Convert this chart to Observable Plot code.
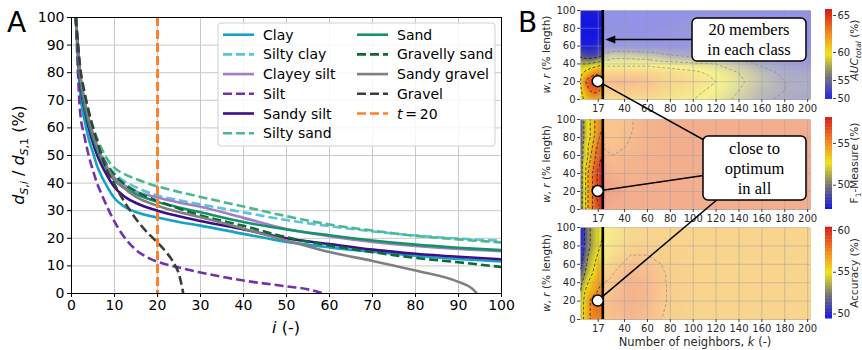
<!DOCTYPE html>
<html><head><meta charset="utf-8">
<script src="https://cdn.jsdelivr.net/npm/d3@7"></script>
<script src="https://cdn.jsdelivr.net/npm/@observablehq/plot@0.6"></script>
<style>
body{margin:0;background:#fff;}
#wrap{position:relative;width:862px;height:350px;overflow:hidden;font-family:"DejaVu Sans",sans-serif;background:#fff;}
</style></head><body><div id="wrap"></div>
<script>
// ---------- Panel A data ----------
const ticksA = [0,10,20,30,40,50,60,70,80,90,100];
const tMark = [20];
const iFull = [1,2,3,4,5,6,7,8,10,12,15,20,25,30,40,50,60,70,80,90,100];
const clay         = [100,73,63,56,51,46,42.5,39.5,34.5,31.8,29.5,27.5,25.9,24.6,21.6,18.7,16.7,15.1,13.7,12.5,11.6];
const siltyClay    = [100,80,70,63,58,54,50.5,47.5,43.5,41,38.5,35.5,33.8,32.3,29.4,26.6,24.4,22.5,21,19.9,19.1];
const clayeySilt   = [100,79,69,62,57,52.5,49,46,42,39.5,37,34.8,33,31.4,27.4,23.4,20.8,18.7,17.2,16.1,15.3];
const sandySilt    = [100,77,67,60,54.5,50,46.5,43.5,38.5,35.5,32.8,30,28,26.3,23.2,20,17.9,15.9,14.4,13.3,12.4];
const siltySand    = [100,82,73,66,60.5,56,52.5,49.5,45.5,43.5,41.5,38.8,36.8,35,31.5,28,25,22.8,20.9,19.6,18.5];
const sand         = [100,78,68,61.5,56.5,52,48.5,45.5,41,38.5,36,33.2,31.2,29.4,25.9,23.2,21.1,19.2,17.7,16.6,15.7];
const gravellySand = [100,80,70,63,58,53.5,50,47,43,40,37,33.5,30.8,28.3,24.5,20.4,17.4,15,12.9,11.3,9.6];
const iSilt = [1,2,3,4,5,6,7,8,10,12,15,18,20,25,30,40,50,55,58.5];
const silt  = [100,66,57,50,44.5,39.7,36,32.4,26,21,15.8,12.8,11.5,9.4,7.6,4.7,2.6,1.5,0];
const iSandyGravel = [1,2,3,4,5,6,7,8,10,12,15,20,25,30,40,50,60,70,80,90,93,94.3];
const sandyGravel  = [100,80,70.5,63.5,58,53.5,49.5,46.5,41.5,38.5,35,31.8,29.5,27.6,23.5,19.2,15,11.8,8.3,4.2,2,0];
const iGravel = [1,2,3,4,5,6,7,8,10,12,15,18,20,22,24,25,26];
const gravel  = [100,82,73,66,60,55,50,45.5,39.5,34,27,21.5,18.5,15,10.5,7,0];

// ---------- Panel B data ----------
const kGrid = [1.5,4,8,12,16,20,22,30,45,60,80,100,120,140,160,180,202.5];
const wGrid = [100,90,80,70,60,50,40,30,20,10,0];
const kTicks = [17,40,60,80,100,120,140,160,180,200];
const wTicks = [0,20,40,60,80,100];
const kLine = [21];
const kOpt = [17], wOpt = [20];
const aucRows = [
 [51,50.5,50.5,50.5,50.5,50.8, 51,51,51,51,51,51.2,51.2,51,51,51,51],
 [50.5,50,50,50,50,50.3, 51,51,51,51,51,51.5,51.5,51.2,51,51,51],
 [50.5,50,50,50,50,50.3, 51,51,51,51,51.5,52,52,51.5,51,51,51],
 [50.5,50,50,50,50.2,50.5, 51.3,51.3,51.3,51.3,51.5,52,52,51.5,51.3,51,51],
 [51,50.5,50.5,50.5,51,51.5, 52,52,52,51.5,51.5,51.5,51.5,51.5,51.5,51.2,51],
 [54,53.5,53,53,53.5,54.5, 56,57,57,56.5,55,54,53.5,53,52.5,52,51.8],
 [58,58,58,58.5,59,59.5, 59.5,59.5,59.5,59.5,59,58.5,58,56.5,54.5,53,52.5],
 [59.5,60,61,62,62.5,62, 61.5,61.5,61.5,61.5,61,60.5,59.5,58,56,54.5,54],
 [60,62,64,65,65.5,64, 62.5,63,63,62.5,61.5,61,60,58.5,56.5,55,54.5],
 [59.5,61,62.5,63.5,63.5,62.5, 62,62,62,62,61,60.5,59.5,58,56,55,54.5],
 [59,60,61,61.5,61.5,61, 61,61,61,61,60.5,60,59,57.5,55.5,54.5,54]
];
const f1Rows = [
 [49,51,52.5,53.5,54.5,55.5, 55,55,55.4,56,56.2,56.2,56.2,56.2,56.2,56.2,56.2],
 [48.5,51,52.5,53.5,54.5,55.5, 55,55,55.4,56,56.2,56.2,56.2,56.2,56.2,56.2,56.2],
 [48.5,51,52.5,53.5,55,56, 55.1,55,55.5,56,56.2,56.2,56.2,56.2,56.2,56.2,56.2],
 [49,51.5,53,54,55.5,56.5, 55.4,55.2,55.6,56,56.2,56.2,56.2,56.2,56.2,56.2,56.2],
 [49,51.5,53,54.5,56,57, 55.8,55.5,55.8,56.1,56.2,56.2,56.2,56.2,56.2,56.2,56.2],
 [49.5,52,53.5,55,56.5,57.5, 56.2,55.7,56,56.1,56.2,56.2,56.2,56.2,56.2,56.2,56.2],
 [49.5,52,54,55.5,57,57.8, 56.5,56,56,56.1,56.2,56.2,56.2,56.2,56.2,56.2,56.2],
 [49.5,52,54,55.5,57,57.8, 56.8,56.5,56.2,56.2,56.2,56.2,56.2,56.2,56.2,56.2,56.2],
 [49.5,52,54,55.5,57,58, 57,56.8,56.2,56.2,56.2,56.2,56.2,56.2,56.2,56.2,56.2],
 [49.5,52,54,55.5,57,57.8, 56.8,56.5,56.2,56.2,56.2,56.2,56.2,56.2,56.2,56.2,56.2],
 [49.5,52,54,55.5,56.5,57.5, 56.5,56.3,56.2,56.2,56.2,56.2,56.2,56.2,56.2,56.2,56.2]
];
const accRows = [
 [50,50.5,52.5,53.5,54.5,55, 55,55.5,56.3,56.5,56.5,56.5,56.5,56.5,56.5,56.5,56.5],
 [50,50.5,52.5,53.5,54.5,55, 55,55.5,56.3,56.5,56.5,56.5,56.5,56.5,56.5,56.5,56.5],
 [50,50.5,52.5,53.5,54.5,55.2, 55.2,55.8,56.5,56.7,56.5,56.5,56.5,56.5,56.5,56.5,56.5],
 [50.2,51,53,54,55,55.5, 55.5,56,57,57,56.6,56.5,56.5,56.5,56.5,56.5,56.5],
 [50.5,51.5,53.5,54.5,55.5,56, 56,56.5,57.5,57.5,56.7,56.5,56.5,56.5,56.5,56.5,56.5],
 [51.5,52.5,54,55,56,56.5, 56.5,57,58,57.8,56.8,56.5,56.5,56.5,56.5,56.5,56.5],
 [52.5,53.5,55,56,56.5,57, 57,57.3,58.2,58,56.8,56.5,56.5,56.5,56.5,56.5,56.5],
 [53,54.5,56,56.5,57,57.5, 57.2,57.5,58.3,58,56.8,56.5,56.5,56.5,56.5,56.5,56.5],
 [53.5,55,56.5,57.5,58,58, 57.5,57.8,58.3,58,56.8,56.5,56.5,56.5,56.5,56.5,56.5],
 [53.5,55,56.5,57.5,58,58, 57.5,57.8,58.2,57.8,56.7,56.5,56.5,56.5,56.5,56.5,56.5],
 [53.5,55,56.5,57.5,57.5,57.5, 57.3,57.5,58,57.5,56.6,56.5,56.5,56.5,56.5,56.5,56.5]
];
const aucTicks = [50,55,60,65], f1Ticks = [50,55], accTicks = [50,55,60];

// ---------- colour map ----------
const cmap = d3.scaleLinear().domain([0,0.25,0.5,0.72,1])
  .range(["#1212e6","#707074","#ece41a","#f28a1c","#d41a1a"]).interpolate(d3.interpolateRgb).clamp(true);
const ramp = t => cmap(t);

const wrap = document.getElementById("wrap");
function place(el, left, top){el.style.position="absolute";el.style.left=left+"px";el.style.top=top+"px";wrap.appendChild(el);return el;}

// ---------- Panel A ----------
const seriesA = [
 {name:"Clay", i:iFull, v:clay, color:"#17a2c5", dash:null},
 {name:"Silty clay", i:iFull, v:siltyClay, color:"#5ac4da", dash:"9,4"},
 {name:"Clayey silt", i:iFull, v:clayeySilt, color:"#a27dca", dash:null},
 {name:"Silt", i:iSilt, v:silt, color:"#7233aa", dash:"9,4"},
 {name:"Sandy silt", i:iFull, v:sandySilt, color:"#3f0d88", dash:null},
 {name:"Silty sand", i:iFull, v:siltySand, color:"#4cb88f", dash:"9,4"},
 {name:"Sand", i:iFull, v:sand, color:"#14936a", dash:null},
 {name:"Gravelly sand", i:iFull, v:gravellySand, color:"#0b6a35", dash:"9,4"},
 {name:"Sandy gravel", i:iSandyGravel, v:sandyGravel, color:"#808080", dash:null},
 {name:"Gravel", i:iGravel, v:gravel, color:"#3c3c3c", dash:"9,4"}
];
const tColor = "#ff7f2a";

const plotA = Plot.plot({
  width:520, height:350, marginLeft:71, marginRight:19, marginTop:17, marginBottom:57,
  style:{background:"transparent", fontFamily:"DejaVu Sans, sans-serif", fontSize:"14px", color:"#000", overflow:"visible"},
  x:{domain:[0,100]}, y:{domain:[0,100]},
  marks:[
    Plot.gridX(ticksA, {stroke:"#c9c9c9", strokeOpacity:1}),
    Plot.gridY(ticksA, {stroke:"#c9c9c9", strokeOpacity:1}),
    ...seriesA.map(s => Plot.line(s.i.map((x,j)=>({i:x, v:s.v[j]})),
      {x:"i", y:"v", stroke:s.color, strokeWidth:2.6, strokeDasharray:s.dash || undefined, strokeLinecap:"butt", curve:"monotone-x", clip:true})),
    Plot.ruleX(tMark, {stroke:tColor, strokeWidth:3, strokeDasharray:"9,4"}),
    Plot.frame({stroke:"#000", strokeWidth:1}),
    Plot.axisX(ticksA, {tickSize:4, tickPadding:3, fontSize:14, label:null}),
    Plot.axisY(ticksA, {tickSize:4, tickPadding:3, fontSize:14, label:null})
  ]
});
place(plotA, 0, 0);

// ---------- Panel B ----------
function gridData(rows, ks, ws){
  const out = [];
  ws.forEach((w,r)=>ks.forEach((k,c)=>out.push({k, w, v: rows[r][c]})));
  return out;
}
// edge-padded copy so contour outlines do not trace the panel border
function padded(rows){
  const last = rows.length-1;
  const rs = [rows[0], ...rows, rows[last]].map(r=>[r[0], ...r, r[r.length-1]]);
  const ks = [kGrid[0]-6, ...kGrid, kGrid[kGrid.length-1]+6];
  const ws = [106, ...wGrid, -6];
  return gridData(rs, ks, ws);
}
function makeHeat(rows, colorSpec, thresholds, top, areaH){
  const data = gridData(rows, kGrid, wGrid);
  const pdata = padded(rows);
  const ext = {x1:kGrid[0], x2:kGrid[kGrid.length-1], y1:0, y2:100};
  const pext = {x1:kGrid[0]-6, x2:kGrid[kGrid.length-1]+6, y1:-6, y2:106};
  const p = Plot.plot({
    width:300, height:10+areaH+24, marginLeft:60, marginRight:10, marginTop:10, marginBottom:24,
    style:{background:"transparent", fontFamily:"DejaVu Sans, sans-serif", fontSize:"10px", color:"#2a2a2a", overflow:"visible"},
    x:{domain:[kGrid[0], kGrid[kGrid.length-1]]}, y:{domain:[0,100]},
    color: colorSpec,
    marks:[
      Plot.raster(data, {x:"k", y:"w", fill:"v", interpolate:"barycentric", ...ext}),
      Plot.contour(pdata, {x:"k", y:"w", value:"v", interpolate:"barycentric", ...pext, thresholds, fill:"none", stroke:"#111", strokeWidth:0.9, strokeDasharray:"3,2", strokeOpacity:0.8, clip:true}),
      Plot.rect(kLine, {x1:d=>d, x2:kGrid[kGrid.length-1], y1:0, y2:100, fill:"white", fillOpacity:0.5}),
      Plot.gridX(kTicks, {stroke:"#9a9aaa", strokeOpacity:0.45}),
      Plot.gridY(wTicks, {stroke:"#9a9aaa", strokeOpacity:0.45}),
      Plot.ruleX(kLine, {stroke:"#000", strokeWidth:2.6}),
      Plot.axisX(kTicks, {tickSize:3, tickPadding:2, fontSize:10, label:null, stroke:"#444"}),
      Plot.axisY(wTicks, {tickSize:3, tickPadding:2, fontSize:10, label:null, stroke:"#444"})
    ]
  });
  place(p, 520, top);
  return {p, top};
}
const aucColor = {type:"linear", domain:[49.7,50,55,60,65,65.8], range:[0,0.011,0.211,0.522,0.933,1], interpolate:ramp, clamp:true};
const f1Color  = {type:"linear", domain:[47.1,58.1], interpolate:ramp, clamp:true};
const accColor = {type:"linear", domain:[49.4,60.4], interpolate:ramp, clamp:true};

const h1 = makeHeat(aucRows, aucColor, [55,58,60,63], 0, 89);
const h2 = makeHeat(f1Rows, f1Color, [51,53,54,55.5,57], 109, 90);
const h3 = makeHeat(accRows, accColor, [51,53,55,57], 217, 92);

function cbar(colorSpec, yDomain, yRange, ticks){
  const lo = yDomain[0], hi = yDomain[yDomain.length-1], step = (hi-lo)/120;
  const steps = d3.range(lo, hi, step);
  const p = Plot.plot({
    width:40, height:350, marginLeft:5, marginRight:28, marginTop:0, marginBottom:0,
    style:{background:"transparent", fontFamily:"DejaVu Sans, sans-serif", fontSize:"10px", color:"#2a2a2a", overflow:"visible"},
    x:{domain:[0,1], axis:null},
    y:{type:"linear", domain:yDomain, range:yRange},
    color: colorSpec,
    marks:[
      Plot.rect(steps, {x1:0, x2:1, y1:d=>d, y2:d=>Math.min(hi, d+step*1.6), fill:d=>d+step/2}),
      Plot.axisY(ticks, {anchor:"right", tickSize:3, tickPadding:2, fontSize:10, label:null, stroke:"#444"})
    ]
  });
  place(p, 820, 0);
}
cbar(aucColor, [49.7,50,55,60,65,65.8], [99,98,80,52,15,9], aucTicks);
cbar(f1Color, [47.1,58.1], [209,117], f1Ticks);
cbar(accColor, [49.4,60.4], [318.5,226.7], accTicks);

// ---------- overlay: labels, legend, annotations ----------
const ov = d3.create("svg").attr("width",862).attr("height",350)
  .style("position","absolute").style("left","0px").style("top","0px")
  .attr("font-family","DejaVu Sans, sans-serif");
wrap.appendChild(ov.node());

ov.append("text").attr("x",7).attr("y",32).attr("font-size",28).text("A");
ov.append("text").attr("x",518).attr("y",32).attr("font-size",28).text("B");

// Panel A axis labels
const yl = ov.append("text").attr("transform","translate(24,155) rotate(-90)").attr("text-anchor","middle").attr("font-size",16);
yl.append("tspan").attr("font-style","italic").text("d");
yl.append("tspan").attr("font-size",11).attr("dy",4).html("<tspan font-style='italic'>S</tspan>,<tspan font-style='italic'>i</tspan>");
yl.append("tspan").attr("dy",-4).text(" / ");
yl.append("tspan").attr("font-style","italic").text("d");
yl.append("tspan").attr("font-size",11).attr("dy",4).html("<tspan font-style='italic'>S</tspan>,1");
yl.append("tspan").attr("dy",-4).text(" (%)");
const xl = ov.append("text").attr("x",286).attr("y",333).attr("text-anchor","middle").attr("font-size",16);
xl.append("tspan").attr("font-style","italic").text("i");
xl.append("tspan").text(" (-)");

// Legend
const lg = ov.append("g");
lg.append("rect").attr("x",218).attr("y",23).attr("width",277).attr("height",123).attr("rx",3)
  .attr("fill","white").attr("fill-opacity",0.85).attr("stroke","#d0d0d0");
const legItems = seriesA.map(s=>({name:s.name, color:s.color, dash:s.dash})).concat([{name:"t", color:tColor, dash:"9,4"}]);
legItems.forEach((it,idx)=>{
  const col = idx < 6 ? 0 : 1, row = idx < 6 ? idx : idx-6;
  const y = 34.7 + row*19.7;
  const x0 = col ? 357 : 223, tx = col ? 397 : 263;
  lg.append("line").attr("x1",x0).attr("x2",x0+31).attr("y1",y).attr("y2",y)
    .attr("stroke",it.color).attr("stroke-width",2.6).attr("stroke-dasharray",it.dash||null);
  const t = lg.append("text").attr("x",tx).attr("y",y+5).attr("font-size",14);
  if (it.name === "t") { t.append("tspan").attr("font-style","italic").text("t"); t.append("tspan").text("\u2009=\u200920"); }
  else t.text(it.name);
});

// Panel B axis labels
[h1,h2,h3].forEach(h=>{
  const y = h.p.scale("y");
  const cy = h.top + (y.apply(0)+y.apply(100))/2;
  const t = ov.append("text").attr("transform",`translate(550,${cy}) rotate(-90)`).attr("text-anchor","middle").attr("font-size",10.5).attr("fill","#2a2a2a");
  t.append("tspan").attr("font-style","italic").text("w");
  t.append("tspan").text(", ");
  t.append("tspan").attr("font-style","italic").text("r");
  t.append("tspan").text(" (% length)");
});
const bx = ov.append("text").attr("x",695).attr("y",346).attr("text-anchor","middle").attr("font-size",11.5).attr("fill","#2a2a2a");
bx.append("tspan").text("Number of neighbors, ");
bx.append("tspan").attr("font-style","italic").text("k");
bx.append("tspan").text(" (-)");

// colorbar labels
const c1 = ov.append("text").attr("transform","translate(858,50) rotate(-90)").attr("text-anchor","middle").attr("font-size",10.5).attr("fill","#2a2a2a");
c1.append("tspan").attr("font-style","italic").text("AUC");
c1.append("tspan").attr("font-style","italic").attr("font-size",7.5).attr("dy",2.5).text("total");
c1.append("tspan").attr("dy",-2.5).text(" (%)");
const c2 = ov.append("text").attr("transform","translate(858,163) rotate(-90)").attr("text-anchor","middle").attr("font-size",10.5).attr("fill","#2a2a2a");
c2.append("tspan").text("F");
c2.append("tspan").attr("font-size",7.5).attr("dy",2.5).text("1");
c2.append("tspan").attr("dy",-2.5).text("-Measure (%)");
ov.append("text").attr("transform","translate(858,273) rotate(-90)").attr("text-anchor","middle").attr("font-size",10.5).attr("fill","#2a2a2a").text("Accuracy (%)");

// annotations
const pts = [h1,h2,h3].map(h=>({x:520 + h.p.scale("x").apply(kOpt[0]), y:h.top + h.p.scale("y").apply(wOpt[0])}));
const lineX = 520 + h1.p.scale("x").apply(kLine[0]);
const box1 = {x:692, y:18, w:114, h:43}, box2 = {x:703, y:136, w:103, h:64};
const b2c = {x:box2.x+box2.w/2, y:box2.y+box2.h/2};
pts.forEach(p=>ov.append("line").attr("x1",p.x).attr("y1",p.y).attr("x2",b2c.x).attr("y2",b2c.y).attr("stroke","#000").attr("stroke-width",1.5));
const ay = box1.y+box1.h/2;
ov.append("line").attr("x1",box1.x+10).attr("y1",ay).attr("x2",lineX+12).attr("y2",ay).attr("stroke","#000").attr("stroke-width",1.5);
ov.append("path").attr("d",`M${lineX+3},${ay} L${lineX+13},${ay-4} L${lineX+13},${ay+4} Z`).attr("fill","#000");
[box1,box2].forEach(b=>ov.append("rect").attr("x",b.x).attr("y",b.y).attr("width",b.w).attr("height",b.h).attr("rx",5)
  .attr("fill","white").attr("stroke","#000").attr("stroke-width",1.5));
const serif = "Liberation Serif, Times New Roman, serif";
[["20 members",35],["in each class",55]].forEach(([s,y])=>ov.append("text").attr("x",box1.x+box1.w/2).attr("y",y).attr("text-anchor","middle").attr("font-family",serif).attr("font-size",16.5).text(s));
[["close to",154],["optimum",174],["in all",194]].forEach(([s,y])=>ov.append("text").attr("x",box2.x+box2.w/2).attr("y",y).attr("text-anchor","middle").attr("font-family",serif).attr("font-size",16.5).text(s));
pts.forEach(p=>ov.append("circle").attr("cx",p.x).attr("cy",p.y).attr("r",5.5).attr("fill","white").attr("stroke","#000").attr("stroke-width",1.5));
</script>
</body></html>
